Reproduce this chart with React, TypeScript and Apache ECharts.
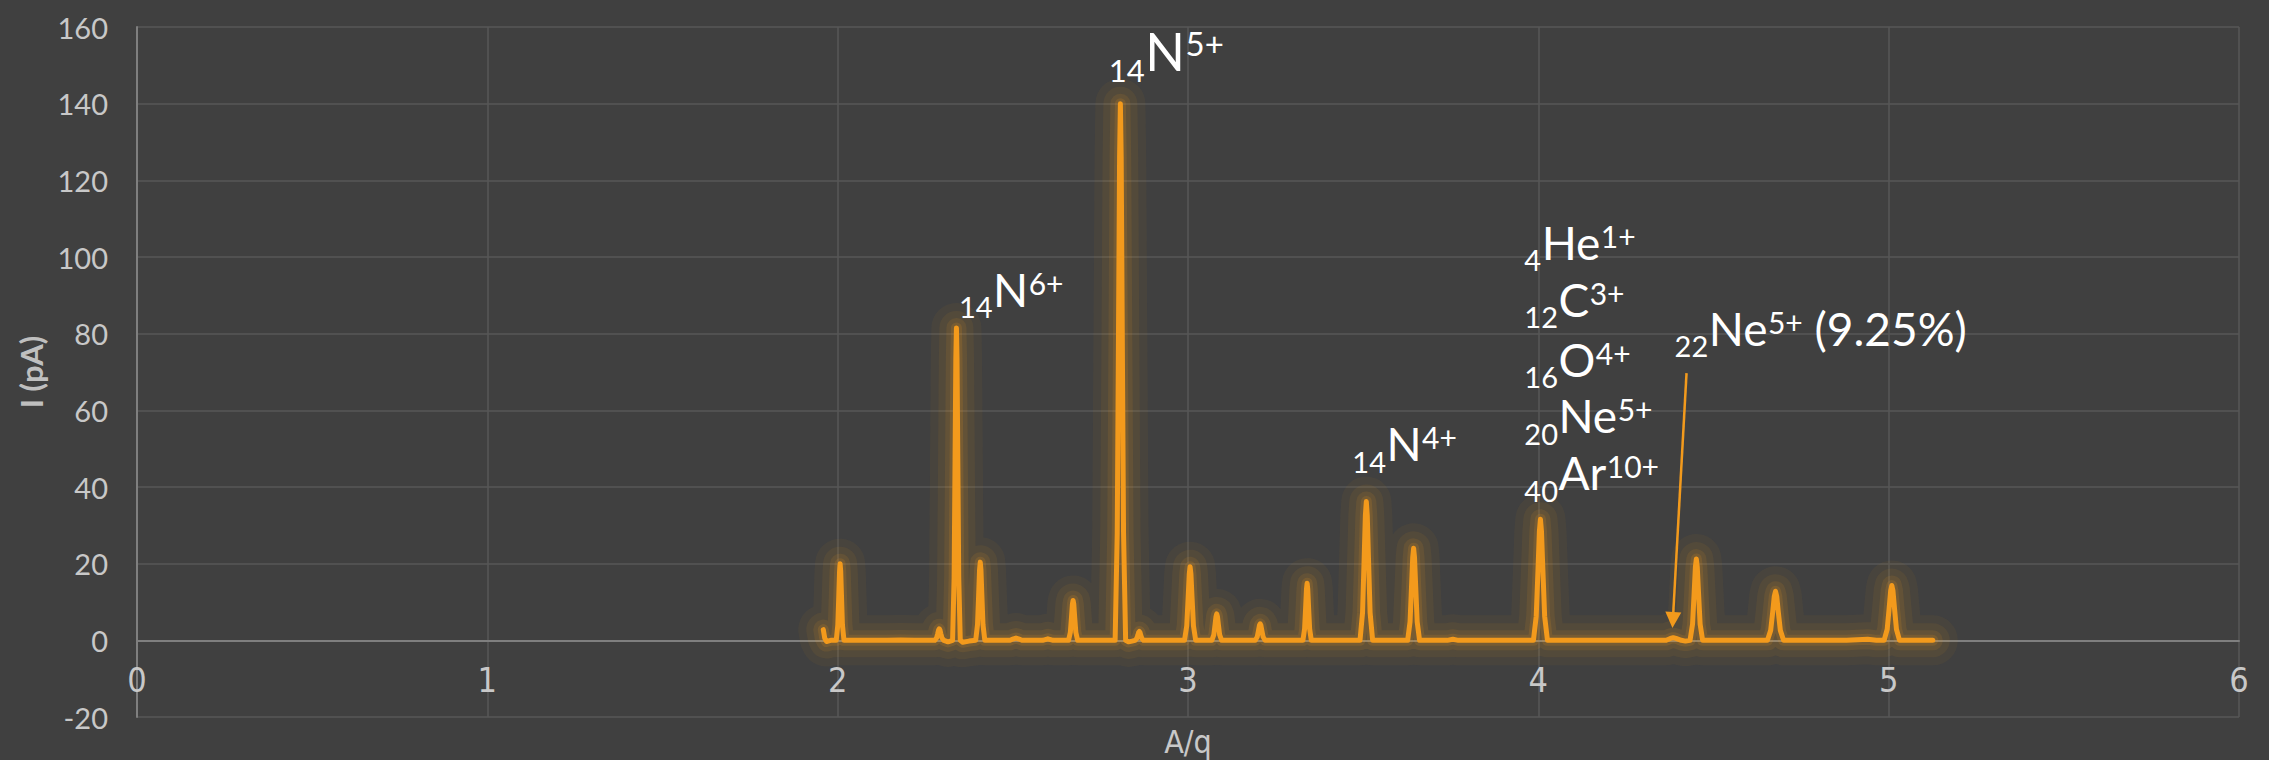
import React, { useEffect, useRef } from "react";
import * as echarts from "echarts";

// ---------- data ----------
const xTicks = { min: 0, max: 6, interval: 1 };
const yTicks = { min: -20, max: 160, interval: 20 };
const xName = "A/q";
const yName = "I (pA)";

// measured trace: [A/q, I (pA)]
const spectrum: [number, number][] = [
  [1.959, 2.8], [1.963, 0.6], [1.968, -0.3], [1.98, 0],
  [1.996, 0], [2.0004, 4], [2.0032, 11.6], [2.0054, 18], [2.007, 20], [2.0087, 18], [2.0109, 11.6], [2.0136, 4], [2.018, 0],
  [2.06, 0], [2.14, 0], [2.18, 0.1], [2.22, 0],
  [2.277, 0], [2.2822, 0.6], [2.2854, 1.7], [2.288, 2.7], [2.29, 3], [2.292, 2.7], [2.2946, 1.7], [2.2978, 0.6], [2.303, 0],
  [2.315, -0.4],
  [2.328, 0], [2.3324, 16.3], [2.3351, 47.3], [2.3373, 73.4], [2.339, 81.5], [2.3407, 73.4], [2.3429, 47.3], [2.3456, 16.3], [2.35, 0],
  [2.357, -0.5], [2.375, -0.2],
  [2.394, 0], [2.3992, 4.1], [2.4024, 11.8], [2.405, 18.4], [2.407, 20.4], [2.409, 18.4], [2.4116, 11.8], [2.4148, 4.1], [2.42, 0],
  [2.45, 0],
  [2.492, 0], [2.502, 0.4], [2.509, 0.6], [2.516, 0.4], [2.526, 0],
  [2.555, 0],
  [2.585, 0], [2.6, 0.4], [2.615, 0],
  [2.64, 0],
  [2.659, 0], [2.6642, 2.1], [2.6674, 6.0], [2.67, 9.4], [2.672, 10.4], [2.674, 9.4], [2.6766, 6.0], [2.6798, 2.1], [2.685, 0],
  [2.73, 0], [2.77, 0],
  [2.792, 0], [2.798, 28], [2.8017, 81.2], [2.8047, 126], [2.807, 140], [2.8093, 126], [2.8123, 81.2], [2.816, 28], [2.822, 0],
  [2.83, -0.4], [2.84, -0.2],
  [2.849, 0], [2.8538, 0.5], [2.8568, 1.3], [2.8592, 2.1], [2.861, 2.3], [2.8628, 2.1], [2.8652, 1.3], [2.8682, 0.5], [2.873, 0],
  [2.92, 0], [2.96, 0],
  [2.99, 0], [2.9964, 3.8], [3.0004, 11.1], [3.0036, 17.3], [3.006, 19.2], [3.0084, 17.3], [3.0116, 11.1], [3.0156, 3.8], [3.022, 0],
  [3.045, 0],
  [3.068, 0], [3.0736, 1.4], [3.0771, 4.0], [3.0799, 6.2], [3.082, 6.9], [3.0841, 6.2], [3.0869, 4.0], [3.0904, 1.4], [3.096, 0],
  [3.14, 0], [3.17, 0],
  [3.192, 0], [3.1976, 0.9], [3.2011, 2.5], [3.2039, 3.9], [3.206, 4.3], [3.2081, 3.9], [3.2109, 2.5], [3.2144, 0.9], [3.22, 0],
  [3.26, 0], [3.3, 0],
  [3.328, 0], [3.3328, 3.0], [3.3358, 8.6], [3.3382, 13.4], [3.34, 14.9], [3.3418, 13.4], [3.3442, 8.6], [3.3472, 3.0], [3.352, 0],
  [3.4, 0], [3.45, 0],
  [3.491, 0], [3.4982, 7.2], [3.5027, 21.0], [3.5063, 32.6], [3.509, 36.2], [3.5117, 32.6], [3.5153, 21.0], [3.5198, 7.2], [3.527, 0],
  [3.57, 0], [3.6, 0],
  [3.627, 0], [3.6338, 4.8], [3.638, 13.9], [3.6414, 21.6], [3.644, 24], [3.6466, 21.6], [3.65, 13.9], [3.6542, 4.8], [3.661, 0],
  [3.7, 0], [3.74, 0], [3.756, 0.3], [3.772, 0], [3.85, 0], [3.92, 0], [3.96, 0],
  [3.986, 0], [3.994, 6.3], [3.999, 18.3], [4.003, 28.4], [4.006, 31.6], [4.009, 28.4], [4.013, 18.3], [4.018, 6.3], [4.026, 0],
  [4.1, 0], [4.2, 0], [4.3, 0],
  [4.365, 0], [4.377, 0.5], [4.385, 0.7], [4.393, 0.5], [4.408, 0],
  [4.42, -0.2],
  [4.433, 0], [4.4402, 4.2], [4.4447, 12.3], [4.4483, 19.1], [4.451, 21.2], [4.4537, 19.1], [4.4573, 12.3], [4.4618, 4.2], [4.469, 0],
  [4.53, 0], [4.6, 0],
  [4.654, 0], [4.6632, 2.6], [4.669, 7.4], [4.6735, 11.5], [4.677, 12.8], [4.6805, 11.5], [4.685, 7.4], [4.6908, 2.6], [4.7, 0],
  [4.78, 0], [4.88, 0], [4.94, 0.3], [4.965, 0],
  [4.987, 0], [4.9958, 2.9], [5.0013, 8.3], [5.0057, 12.9], [5.009, 14.3], [5.0123, 12.9], [5.0167, 8.3], [5.0222, 2.9], [5.031, 0],
  [5.08, 0], [5.126, 0],
];

// ion labels: subscript mass, symbol, superscript charge; anchored at [A/q, I] (left edge, baseline)
type IonLabel = { sub: string; main: string; sup: string; tail?: string; at: [number, number]; big?: boolean };
const ionLabels: IonLabel[] = [
  { sub: "14", main: "N", sup: "6+", at: [2.346, 87.0] },
  { sub: "14", main: "N", sup: "5+", at: [2.774, 148.6], big: true },
  { sub: "14", main: "N", sup: "4+", at: [3.469, 46.7] },
  { sub: "4", main: "He", sup: "1+", at: [3.96, 99.2] },
  { sub: "12", main: "C", sup: "3+", at: [3.96, 84.3] },
  { sub: "16", main: "O", sup: "4+", at: [3.96, 68.7] },
  { sub: "20", main: "Ne", sup: "5+", at: [3.96, 54.0] },
  { sub: "40", main: "Ar", sup: "10+", at: [3.96, 39.1] },
  { sub: "22", main: "Ne", sup: "5+", tail: " (9.25%)", at: [4.389, 76.8] },
];
const arrowFrom: [number, number] = [4.423, 69.7];
const arrowTo: [number, number] = [4.384, 5.3];

// ---------- style ----------
const BG = "#404040";
const ORANGE = "#F39A1C";
const GRID = "#575757";
const AXIS = "#7f7f7f";
const LABEL = "#c8c8c8";
const ANN_FONT = "Lato, 'Noto Sans', sans-serif";
const COND_FONT = "'DejaVu Sans Condensed', 'Liberation Sans Narrow', Lato, sans-serif";
const GRID_TOP = 27;
const GRID_BOTTOM = 43;
const CHART_H = 760;

let measureCtx: CanvasRenderingContext2D | null = null;
function textWidth(t: string, size: number): number {
  if (!measureCtx) measureCtx = document.createElement("canvas").getContext("2d");
  if (!measureCtx) return t.length * size * 0.55;
  measureCtx.font = `${size}px Lato`;
  return measureCtx.measureText(t).width;
}

const CENTRAL = 0.387; // central baseline above alphabetic baseline (em)
const CAP = 0.7165;

function txt(text: string, x: number, baseline: number, size: number) {
  return {
    type: "text",
    x,
    y: baseline - CENTRAL * size,
    z: 100,
    silent: true,
    style: {
      text,
      fontSize: size,
      fontFamily: ANN_FONT,
      fill: "#ffffff",
      textAlign: "left",
      verticalAlign: "middle",
      textVerticalAlign: "middle",
    },
  };
}

function buildGraphics(chart: echarts.ECharts) {
  const out: any[] = [];
  ionLabels.forEach((l) => {
    const p = chart.convertToPixel({ gridIndex: 0 }, l.at) as number[];
    if (!p) return;
    const main = l.big ? 52 : 46;
    const sub = l.big ? 31 : 29;
    const sup = l.big ? 33 : 30;
    const B = p[1];
    let x = p[0];
    out.push(txt(l.sub, x, B + 11, sub));
    x += textWidth(l.sub, sub) + 0.5;
    out.push(txt(l.main, x, B, main));
    x += textWidth(l.main, main) + 0.5;
    out.push(txt(l.sup, x, B - CAP * (main - sup) - 1, sup));
    x += textWidth(l.sup, sup);
    if (l.tail) out.push(txt(l.tail, x, B, main));
  });
  return out;
}

export default function App() {
  const ref = useRef<HTMLDivElement>(null);
  useEffect(() => {
    if (!ref.current) return;
    const chart = echarts.init(ref.current, null, { renderer: "svg" });
    // x axis sits on the zero line: shift it up by the height of the span below 0
    const plotH = CHART_H - GRID_TOP - GRID_BOTTOM;
    const zeroOffset = (plotH * (0 - yTicks.min)) / (yTicks.max - yTicks.min);
    const glow = (width: number, alpha: number) => ({
      type: "line",
      data: spectrum,
      showSymbol: false,
      symbol: "none",
      silent: true,
      z: 2,
      lineStyle: { color: `rgba(243,154,28,${alpha})`, width, cap: "round", join: "round" },
      emphasis: { disabled: true },
    });
    const option: any = {
      animation: false,
      backgroundColor: BG,
      grid: { left: 137, right: 30, top: GRID_TOP, bottom: GRID_BOTTOM, containLabel: false, outerBoundsMode: "none" },
      xAxis: {
        type: "value",
        min: xTicks.min,
        max: xTicks.max,
        interval: xTicks.interval,
        name: xName,
        nameLocation: "middle",
        nameGap: 86,
        nameTextStyle: { color: LABEL, fontSize: 32, fontFamily: COND_FONT },
        offset: -zeroOffset,
        axisLine: { show: true, onZero: false, lineStyle: { color: AXIS, width: 2 } },
        axisTick: { show: false },
        axisLabel: { color: LABEL, fontSize: 34, fontFamily: COND_FONT, margin: 23 },
        splitLine: { show: true, lineStyle: { color: GRID, width: 1.5 } },
      },
      yAxis: {
        type: "value",
        min: yTicks.min,
        max: yTicks.max,
        interval: yTicks.interval,
        name: yName,
        nameLocation: "middle",
        nameGap: 84,
        nameTextStyle: { color: "#bfbfbf", fontSize: 31, fontWeight: "bold", fontFamily: ANN_FONT },
        axisLine: { show: true, lineStyle: { color: AXIS, width: 2 } },
        axisTick: { show: false },
        axisLabel: { color: LABEL, fontSize: 29, fontFamily: ANN_FONT, margin: 29 },
        splitLine: { show: true, lineStyle: { color: GRID, width: 1.5 } },
      },
      series: [
        glow(50, 0.05),
        glow(34, 0.07),
        glow(20, 0.1),
        glow(11, 0.14),
        {
          type: "line",
          data: spectrum,
          showSymbol: false,
          symbol: "none",
          z: 3,
          lineStyle: { color: ORANGE, width: 5, cap: "round", join: "round" },
          emphasis: { disabled: true },
          markLine: {
            silent: true,
            symbol: ["none", "triangle"],
            symbolSize: 16,
            label: { show: false },
            emphasis: { disabled: true },
            lineStyle: { color: ORANGE, width: 2.5, type: "solid" },
            data: [[{ coord: arrowFrom }, { coord: arrowTo }]],
          },
        },
      ],
    };
    chart.setOption(option);
    chart.setOption({ graphic: buildGraphics(chart) });
    return () => chart.dispose();
  }, []);
  return (
    <div
      ref={ref}
      style={{ position: "fixed", left: 0, top: 0, width: 2269, height: 760, background: BG }}
    />
  );
}
